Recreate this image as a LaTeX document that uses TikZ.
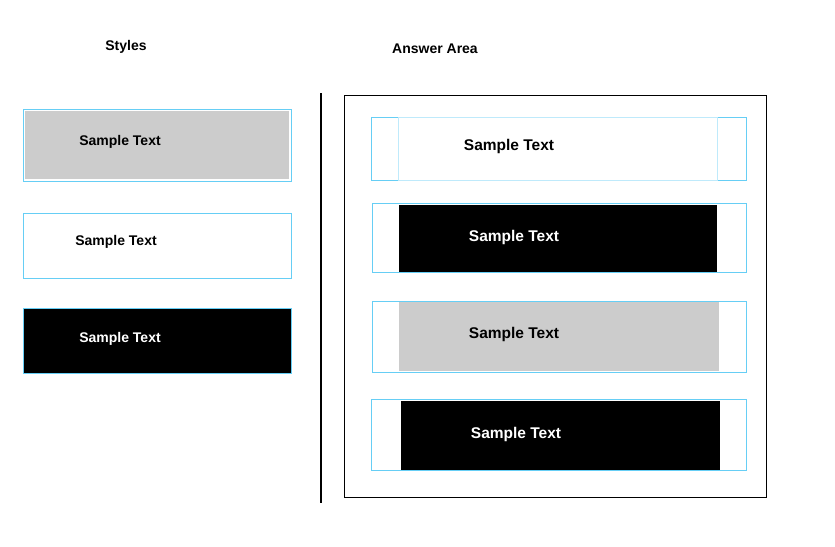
\documentclass[tikz,border=0pt]{standalone}
\usepackage{fontspec}
\setmainfont{Liberation Sans}
\begin{document}
\begin{tikzpicture}[x=1pt,y=-1pt,
  cy/.style={draw=cyan!60!white,line width=1pt},
  lbl/.style={font=\bfseries\fontsize{14}{16}\selectfont},
  rlbl/.style={font=\bfseries\fontsize{15.5}{18}\selectfont}]
\useasboundingbox[fill=white] (0,0) rectangle (835,546);
\node[lbl] (h1) at (126,47) {Styles};
\node[lbl] (h2) at (435,49) {Answer Area};
\draw[line width=2pt] (321,93) -- (321,503);
\draw[line width=0.8pt] (344,95) rectangle (766,497);
% styles
\draw[cy] (23,109) rectangle (291,181);
\fill[gray!40] (25,111) rectangle (289,179);
\node[lbl] (s1) at (120,142) {Sample Text};
\draw[cy] (23,213) rectangle (291,278);
\node[lbl] (s2) at (116,242) {Sample Text};
\draw[cy,fill=black] (23,308) rectangle (291,373);
\node[lbl,white] (s3) at (120,339) {Sample Text};
% answers
\draw[cy] (371,117) rectangle (746,180);
\draw[cy,draw=cyan!25!white] (398,117) rectangle (717,180);
\node[rlbl] (a1) at (509,146) {Sample Text};
\draw[cy] (372,203) rectangle (746,272);
\fill[black] (399,205) rectangle (717,272);
\node[rlbl,white] (a2) at (514,237) {Sample Text};
\draw[cy] (372,301) rectangle (746,372);
\fill[gray!40] (399,302) rectangle (719,371);
\node[rlbl] (a3) at (514,334) {Sample Text};
\draw[cy] (371,399) rectangle (746,470);
\fill[black] (401,401) rectangle (720,470);
\node[rlbl,white] (a4) at (516,434) {Sample Text};
\end{tikzpicture}
\end{document}
